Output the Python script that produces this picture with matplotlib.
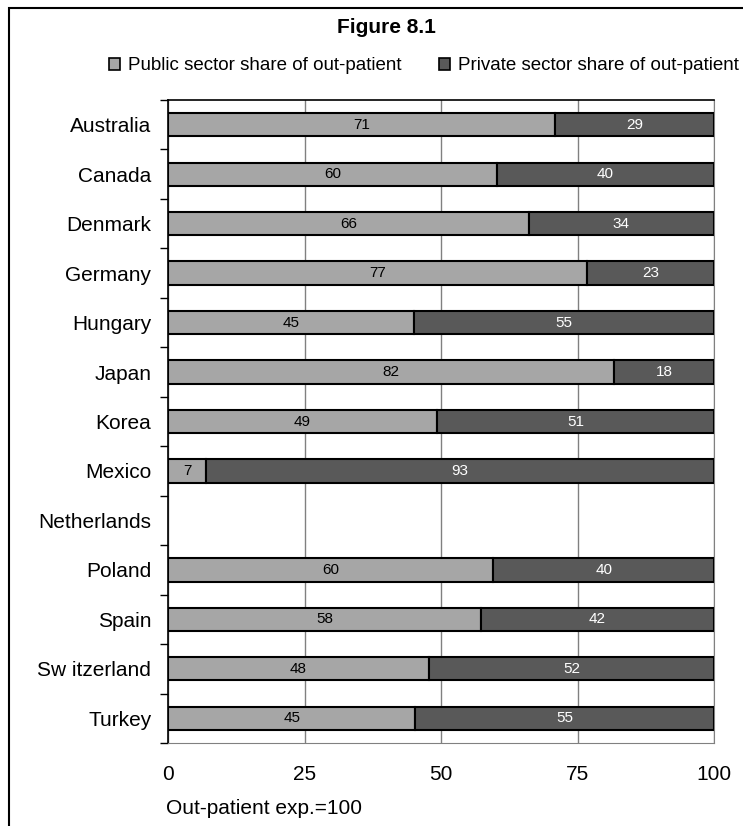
import matplotlib.pyplot as plt
import numpy as np
from matplotlib.patches import Rectangle

plt.rcParams['font.family'] = ['Liberation Sans', 'DejaVu Sans']

countries = ['Australia', 'Canada', 'Denmark', 'Germany', 'Hungary', 'Japan', 'Korea',
             'Mexico', 'Netherlands', 'Poland', 'Spain', 'Sw itzerland', 'Turkey']
# labels as printed, and the share as drawn (bar split)
public = [71, 60, 66, 77, 45, 82, 49, 7, np.nan, 60, 58, 48, 45]
private = [29, 40, 34, 23, 55, 18, 51, 93, np.nan, 40, 42, 52, 55]
public_exact = [70.9, 60.3, 66.1, 76.8, 45.0, 81.7, 49.3, 7.0, np.nan, 59.6, 57.3, 47.8, 45.3]

c_pub = '#a6a6a6'
c_priv = '#595959'

W, H = 743, 826
fig = plt.figure(figsize=(W / 100, H / 100), dpi=100)
ax = fig.add_axes([168 / W, 1 - 743 / H, (714 - 168) / W, (743 - 100) / H])

y = np.arange(len(countries))
pub = np.array(public_exact)
priv = 100 - pub
ax.barh(y, pub, height=0.47, color=c_pub, edgecolor='black', linewidth=1.5, zorder=3)
ax.barh(y, priv, left=pub, height=0.47, color=c_priv, edgecolor='black', linewidth=1.5, zorder=3)

for i in range(len(countries)):
    if np.isnan(public[i]):
        continue
    ax.text(pub[i] / 2, y[i], f"{public[i]:.0f}", ha='center', va='center', fontsize=11,
            color='black', zorder=4)
    ax.text(pub[i] + priv[i] / 2, y[i], f"{private[i]:.0f}", ha='center', va='center',
            fontsize=11, color='white', zorder=4)

ax.set_xlim(0, 100)
ax.set_ylim(len(countries) - 0.5, -0.5)
ax.set_xticks([0, 25, 50, 75, 100])
ax.tick_params(axis='x', length=0, labelsize=15, pad=16)
ax.set_yticks(y)
ax.set_yticklabels(countries)
ax.tick_params(axis='y', which='major', length=0, labelsize=15, pad=12)
ax.set_yticks(np.arange(-0.5, len(countries)), minor=True)
ax.tick_params(axis='y', which='minor', length=6, width=1, color='black')
ax.grid(axis='x', color='#808080', linewidth=1, zorder=0)

ax.spines['left'].set_color('black')
ax.spines['left'].set_linewidth(1.2)
ax.spines['top'].set_color('black')
ax.spines['top'].set_linewidth(1.2)
ax.spines['right'].set_color('#808080')
ax.spines['bottom'].set_color('#808080')

fig.text(166 / W, 1 - 808 / H, 'Out-patient exp.=100', fontsize=15, ha='left', va='center')

fig.text(386 / W, 1 - 33 / H, 'Figure 8.1', ha='center', va='baseline', fontsize=15,
         fontweight='bold')

leg_handles = [Rectangle((0, 0), 1, 1, facecolor=c_pub, edgecolor='black', linewidth=1.2),
               Rectangle((0, 0), 1, 1, facecolor=c_priv, edgecolor='black', linewidth=1.2)]
fig.legend(leg_handles, ['Public sector share of out-patient', 'Private sector share of out-patient'],
           loc='center left', bbox_to_anchor=(109 / W, 1 - 66 / H), ncol=2, frameon=False,
           borderpad=0, borderaxespad=0, fontsize=13.5, handlelength=0.6, handleheight=0.6,
           handletextpad=0.4, columnspacing=2.0)

fig.patches.append(Rectangle((9 / W, -0.05), 1.0, 1 - 8 / H + 0.05, transform=fig.transFigure,
                             fill=False, edgecolor='black', linewidth=1.5))

fig.savefig('out.png', dpi=100)
